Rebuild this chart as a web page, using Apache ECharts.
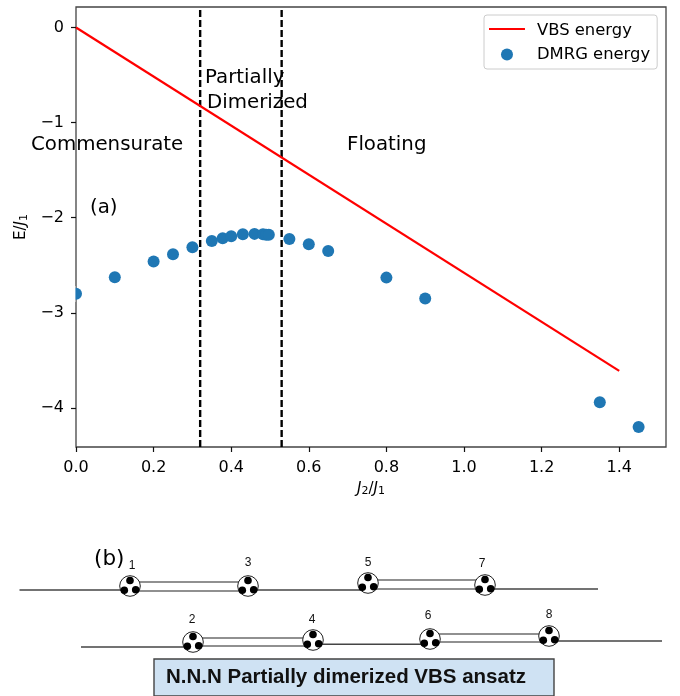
<!DOCTYPE html>
<html>
<head>
<meta charset="utf-8">
<style>html,body{margin:0;padding:0;background:#fff}#c{width:680px;height:696px}</style>
<script src="https://cdn.jsdelivr.net/npm/echarts@6/dist/echarts.min.js"></script>
</head>
<body>
<div id="c"></div>
<script>
// ---- data ----
const vbsX = [0, 1.4];
const vbsE = [0, -3.61];
const dmrgX = [0, 0.1, 0.2, 0.25, 0.3, 0.35, 0.378, 0.4, 0.43, 0.46, 0.482, 0.49, 0.497, 0.55, 0.6, 0.65, 0.8, 0.9, 1.35, 1.45];
const dmrgE = [-2.8, -2.625, -2.46, -2.385, -2.31, -2.245, -2.215, -2.195, -2.175, -2.17, -2.175, -2.18, -2.18, -2.225, -2.28, -2.35, -2.63, -2.85, -3.94, -4.2];
const boundaries = [0.32, 0.53];
const xTicks = [0, 0.2, 0.4, 0.6, 0.8, 1.0, 1.2, 1.4];
const yTicks = [0, -1, -2, -3, -4];
const xLimits = [0, 1.5206];
const yLimits = [-4.411, 0.2156];

// ---- inset diagram (b) layout ----
const nodeLabels = ['1', '3', '5', '7', '2', '4', '6', '8'];
const nodeX = [130, 248, 368, 485, 193, 313, 430, 549];
const nodeY = [586, 586, 583, 585, 642, 640, 639, 636];
const labelX = [132, 248, 368, 482, 192, 312, 428, 549];
const labelY = [566, 563, 563, 564, 620, 620, 616, 615];
const chainLines = [[19.5, 590, 130, 590], [248, 590, 368, 590], [485, 589, 598, 589],
                    [81, 647, 193, 647], [313, 644.3, 430, 644.3], [549, 641, 662, 641]];
const bonds = [[130, 582, 248, 582], [130, 591, 248, 591], [368, 580, 485, 580], [368, 589, 485, 589],
               [193, 638, 313, 638], [193, 646, 313, 646], [430, 634, 549, 634], [430, 642, 549, 642]];
const dotOffsets = [[0, -5.5], [-5.7, 4.3], [5.7, 3.7]];

const FONT = '"DejaVu Sans"';
const ink = '#000';
const g = [];
const txt = (s, x, y, size, extra) => g.push({type: 'text', x, y, z: 20, style: Object.assign({text: s, fill: ink, fontFamily: FONT, fontSize: size, textVerticalAlign: 'middle', textAlign: 'left'}, extra || {})});

// half of the dot on the left frame edge is cut off in the original
g.push({type: 'rect', z: 15, shape: {x: 68, y: 286, width: 7.4, height: 16}, style: {fill: '#fff'}});

txt('Partially', 205, 78, 19.8);
txt('Dimerized', 207, 103, 19.8);
txt('Commensurate', 31, 145, 19.8);
txt('Floating', 347, 145, 19.8);
txt('(a)', 90, 208, 19.8);
txt('(b)', 94, 559, 21.5);

chainLines.forEach(l => g.push({type: 'line', z: 5, shape: {x1: l[0], y1: l[1], x2: l[2], y2: l[3]}, style: {stroke: '#444', lineWidth: 1.5}}));
bonds.forEach(l => g.push({type: 'line', z: 5, shape: {x1: l[0], y1: l[1], x2: l[2], y2: l[3]}, style: {stroke: '#222', lineWidth: 1.2}}));
nodeX.forEach((cx, i) => {
  const cy = nodeY[i];
  g.push({type: 'circle', z: 6, shape: {cx, cy, r: 10.3}, style: {fill: '#fff', stroke: '#222', lineWidth: 1}});
  dotOffsets.forEach(o => g.push({type: 'circle', z: 7, shape: {cx: cx + o[0], cy: cy + o[1], r: 3.8}, style: {fill: '#000'}}));
  g.push({type: 'text', z: 8, x: labelX[i], y: labelY[i], style: {text: nodeLabels[i], fill: '#111', fontFamily: '"Liberation Sans"', fontSize: 12, textAlign: 'center', textVerticalAlign: 'middle'}});
});
g.push({type: 'rect', z: 9, shape: {x: 154, y: 659, width: 400, height: 37}, style: {fill: '#cfe2f3', stroke: '#434343', lineWidth: 1.4}});
g.push({type: 'text', z: 10, x: 166, y: 677, style: {text: 'N.N.N Partially dimerized VBS ansatz', fill: '#111', fontFamily: '"Liberation Sans"', fontWeight: 'bold', fontSize: 20.5, textAlign: 'left', textVerticalAlign: 'middle'}});

const zip = (a, b) => a.map((v, i) => [v, b[i]]);
const rich = {
  u: {fontFamily: FONT, fontSize: 15, color: ink},
  i: {fontFamily: FONT, fontSize: 15, fontStyle: 'italic', color: ink},
  s: {fontFamily: FONT, fontSize: 11, color: ink, verticalAlign: 'bottom', padding: [5, 0, 0, 0]}
};
const minus = v => String(v).replace('-', '\u2212');

const chart = echarts.init(document.getElementById('c'), null, {renderer: 'canvas'});
chart.setOption({
  animation: false,
  backgroundColor: '#fff',
  textStyle: {fontFamily: FONT},
  grid: {left: 76, top: 7, width: 590, height: 440, show: true, borderColor: '#444', borderWidth: 1.3, backgroundColor: 'transparent', containLabel: false},
  legend: {
    left: 484, top: 15, orient: 'vertical', align: 'left',
    data: [{name: 'VBS energy', icon: 'path://M0 0H36V0.01H0Z M0 3.4H36V5.6H0Z M0 12H36V12.01H0Z'}, {name: 'DMRG energy', icon: 'circle'}],
    padding: [7.5, 7, 6.5, 5], itemWidth: 36, itemHeight: 12, itemGap: 8,
    backgroundColor: '#fff', borderColor: '#ccc', borderWidth: 1, borderRadius: 3,
    textStyle: {fontFamily: FONT, fontSize: 16.4, color: ink, padding: [0, 0, 0, 7]}
  },
  xAxis: {
    type: 'value', min: xLimits[0], max: xLimits[1], splitLine: {show: false},
    axisLine: {show: false, onZero: false},
    axisTick: {show: true, length: 5, lineStyle: {color: '#111', width: 1.2}, customValues: xTicks},
    axisLabel: {fontFamily: FONT, fontSize: 16, color: ink, margin: 13, customValues: xTicks, formatter: v => v.toFixed(1)},
    name: '{i|J}{s|2}/{i|J}{s|1}', nameLocation: 'middle', nameGap: 34,
    nameTextStyle: {rich, fontSize: 15, color: ink}
  },
  yAxis: {
    type: 'value', min: yLimits[0], max: yLimits[1], splitLine: {show: false},
    axisLine: {show: false, onZero: false},
    axisTick: {show: true, length: 5, lineStyle: {color: '#111', width: 1.2}, customValues: yTicks},
    axisLabel: {fontFamily: FONT, fontSize: 16, color: ink, margin: 12, customValues: yTicks, formatter: minus},
    name: '{u|E/}{i|J}{s|1}', nameLocation: 'middle', nameGap: 45, nameRotate: 90,
    nameTextStyle: {rich, fontSize: 15, color: ink}
  },
  series: [
    {name: 'VBS energy', type: 'line', data: zip(vbsX, vbsE), showSymbol: false, symbol: 'none', z: 4,
     lineStyle: {color: '#ff0000', width: 2.2}, itemStyle: {color: '#ff0000'}},
    {name: 'DMRG energy', type: 'scatter', data: zip(dmrgX, dmrgE), symbol: 'circle', symbolSize: 12, z: 5,
     itemStyle: {color: '#1f77b4', opacity: 1}},
    {name: 'b1', type: 'line', data: [[boundaries[0], yLimits[0]], [boundaries[0], yLimits[1]]], showSymbol: false, symbol: 'none', z: 3,
     lineStyle: {color: '#000', width: 2.4, type: [7, 3]}},
    {name: 'b2', type: 'line', data: [[boundaries[1], yLimits[0]], [boundaries[1], yLimits[1]]], showSymbol: false, symbol: 'none', z: 3,
     lineStyle: {color: '#000', width: 2.4, type: [7, 3]}}
  ],
  graphic: g
});
</script>
</body>
</html>
